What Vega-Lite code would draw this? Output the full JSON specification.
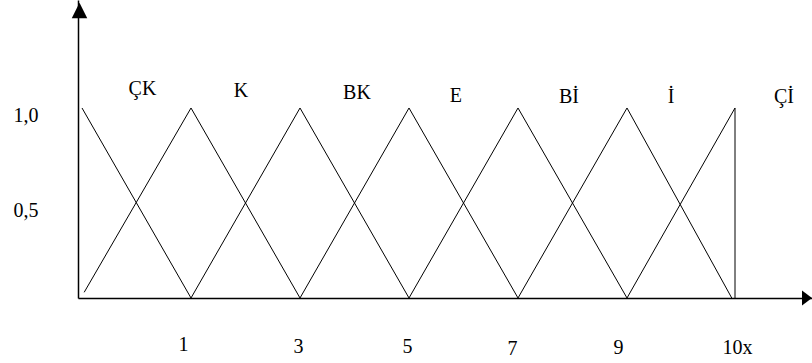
{
  "$schema": "https://vega.github.io/schema/vega-lite/v6.json",
  "width": 734,
  "height": 298,
  "autosize": {"type": "none"},
  "padding": {"left": 78, "top": 0, "right": 0, "bottom": 65},
  "background": "white",
  "config": {"view": {"stroke": null}, "font": "Liberation Serif"},
  "datasets": {
    "mf": [
      {"set": "ÇK", "i": 0, "x": 0, "y": 1},
      {"set": "ÇK", "i": 1, "x": 1, "y": 0},
      {"set": "K", "i": 0, "x": 0.02, "y": 0.03},
      {"set": "K", "i": 1, "x": 1, "y": 1},
      {"set": "K", "i": 2, "x": 3, "y": 0},
      {"set": "BK", "i": 0, "x": 1, "y": 0},
      {"set": "BK", "i": 1, "x": 3, "y": 1},
      {"set": "BK", "i": 2, "x": 5, "y": 0},
      {"set": "E", "i": 0, "x": 3, "y": 0},
      {"set": "E", "i": 1, "x": 5, "y": 1},
      {"set": "E", "i": 2, "x": 7, "y": 0},
      {"set": "Bİ", "i": 0, "x": 5, "y": 0},
      {"set": "Bİ", "i": 1, "x": 7, "y": 1},
      {"set": "Bİ", "i": 2, "x": 9, "y": 0},
      {"set": "İ", "i": 0, "x": 7, "y": 0},
      {"set": "İ", "i": 1, "x": 9, "y": 1},
      {"set": "İ", "i": 2, "x": 9.97, "y": 0},
      {"set": "Çİ", "i": 0, "x": 9, "y": 0},
      {"set": "Çİ", "i": 1, "x": 10, "y": 1},
      {"set": "Çİ", "i": 2, "x": 10, "y": 0}
    ],
    "names": [
      {"name": "ÇK", "x": 0.555, "y": 1.068},
      {"name": "K", "x": 1.917, "y": 1.058},
      {"name": "BK", "x": 4.046, "y": 1.047},
      {"name": "E", "x": 5.862, "y": 1.032},
      {"name": "Bİ", "x": 7.936, "y": 1.026},
      {"name": "İ", "x": 9.407, "y": 1.026},
      {"name": "Çİ", "x": 10.454, "y": 1.026}
    ],
    "arrowY": [{"x": -0.023, "y": 1.513}],
    "arrowX": [{"x": 10.667, "y": 0}]
  },
  "encoding": {
    "x": {
      "field": "x",
      "type": "quantitative",
      "scale": {"domain": [-0.0367, 1, 9, 10, 10.713], "range": [0, 113, 549, 657, 734], "nice": false, "zero": false},
      "axis": {
        "title": null,
        "values": [1, 3, 5, 7, 9, 10],
        "labelExpr": "datum.value === 10 ? '10x' : datum.label",
        "ticks": false,
        "tickSize": 0,
        "grid": false,
        "domainColor": "black",
        "domainWidth": 1.5,
        "labelFont": "Liberation Serif",
        "labelFontSize": 20,
        "labelColor": "black",
        "labelBaseline": "alphabetic",
        "labelFlush": false,
        "labelOverlap": false,
        "labelPadding": {
          "condition": [
            {"test": "datum.value === 1", "value": 52},
            {"test": "datum.value === 7", "value": 56},
            {"test": "datum.value >= 9", "value": 55}
          ],
          "value": 54
        },
        "labelOffset": {
          "condition": [
            {"test": "datum.value === 1", "value": -8},
            {"test": "datum.value === 7", "value": -6},
            {"test": "datum.value === 9", "value": -9},
            {"test": "datum.value === 10", "value": 2}
          ],
          "value": -2
        }
      }
    },
    "y": {
      "field": "y",
      "type": "quantitative",
      "scale": {"domain": [0, 1.5684], "nice": false, "zero": false},
      "axis": {
        "title": null,
        "values": [0.5, 1],
        "labelExpr": "datum.value === 1 ? '1,0' : '0,5'",
        "ticks": false,
        "tickSize": 0,
        "grid": false,
        "domainColor": "black",
        "domainWidth": 1.5,
        "labelFont": "Liberation Serif",
        "labelFontSize": 20,
        "labelColor": "black",
        "labelBaseline": "alphabetic",
        "labelPadding": 40,
        "labelOffset": 13.5,
        "labelFlush": false,
        "labelOverlap": false
      }
    }
  },
  "layer": [
    {
      "data": {"name": "mf"},
      "mark": {"type": "line", "color": "black", "strokeWidth": 1},
      "encoding": {
        "detail": {"field": "set"},
        "order": {"field": "i", "type": "quantitative"}
      }
    },
    {
      "data": {"name": "names"},
      "mark": {"type": "text", "font": "Liberation Serif", "fontSize": 20, "color": "black", "align": "center", "baseline": "alphabetic"},
      "encoding": {"text": {"field": "name"}}
    },
    {
      "data": {"name": "arrowY"},
      "mark": {"type": "point", "filled": true, "color": "black", "opacity": 1, "shape": "M0,-1L1,1L-1,1Z", "size": 240, "strokeWidth": 0}
    },
    {
      "data": {"name": "arrowX"},
      "mark": {"type": "point", "filled": true, "color": "black", "opacity": 1, "shape": "M-0.667,-1L0.667,0L-0.667,1Z", "size": 225, "strokeWidth": 0}
    }
  ]
}
